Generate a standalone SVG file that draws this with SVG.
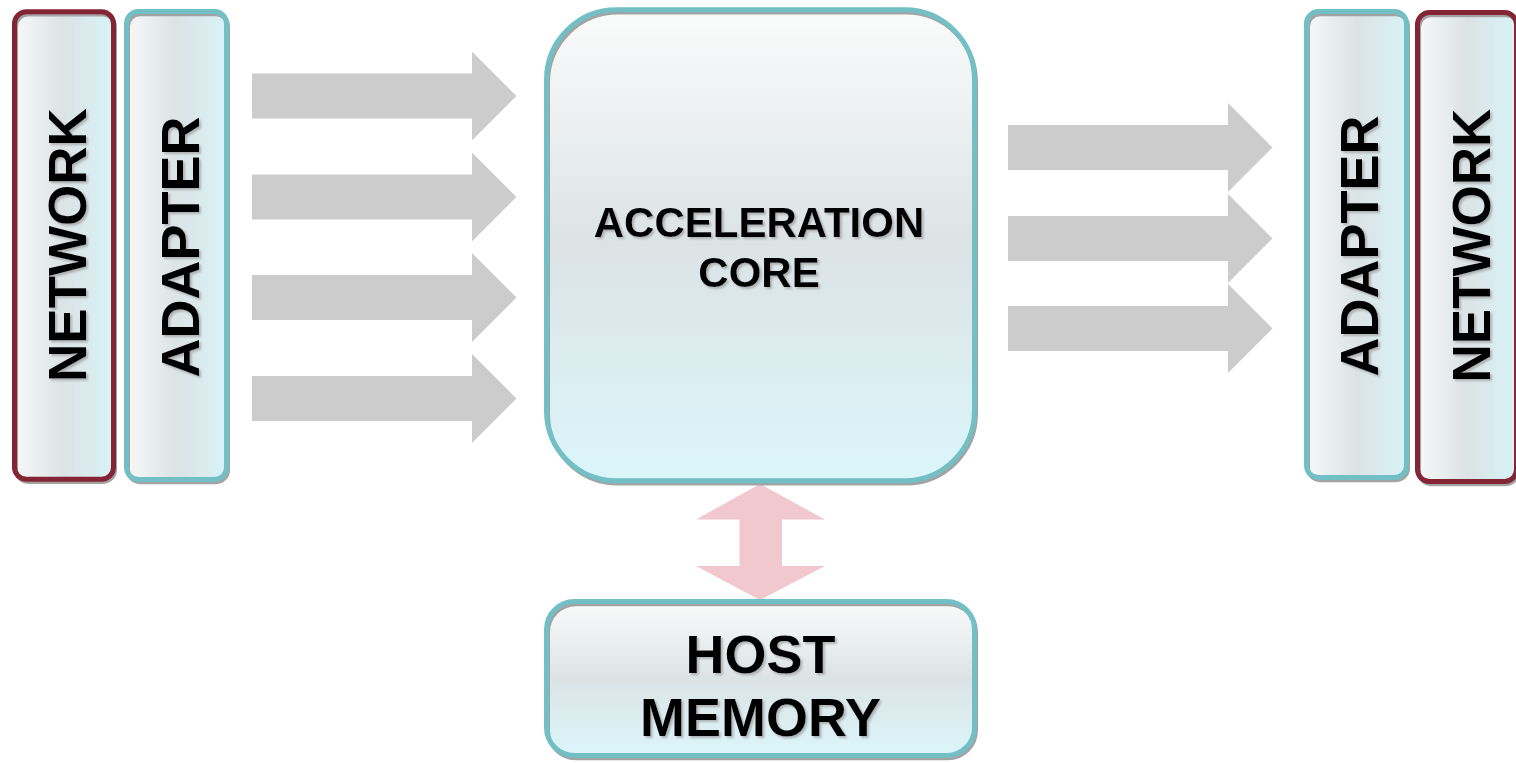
<svg xmlns="http://www.w3.org/2000/svg" width="1516" height="763" viewBox="0 0 1516 763">
<defs>
<linearGradient id="gv" x1="0" y1="0" x2="0" y2="1">
<stop offset="0" stop-color="#FAFBFB"/>
<stop offset="0.5" stop-color="#DCE3E5"/>
<stop offset="1" stop-color="#DBF6FB"/>
</linearGradient>
<linearGradient id="gh" x1="0" y1="0" x2="1" y2="0">
<stop offset="0" stop-color="#F7F8F8"/>
<stop offset="0.5" stop-color="#DCE3E5"/>
<stop offset="1" stop-color="#D8F3F8"/>
</linearGradient>
<filter id="ts" x="-20%" y="-20%" width="140%" height="140%">
<feDropShadow dx="2" dy="2" stdDeviation="0.8" flood-color="#9A9A9A" flood-opacity="0.7"/>
</filter>
</defs>
<style>
.fv{fill:url(#gv);stroke:none}
.fh{fill:url(#gh);stroke:none}
.sh{fill:none;stroke:#A3A3A3;stroke-width:4}
.teal{fill:none;stroke:#72BFC5;stroke-width:5}
.maroon{fill:none;stroke:#842536;stroke-width:5}
.t{font-family:"Liberation Sans",Arial,sans-serif;font-weight:bold;fill:#000;text-anchor:middle}
.arrow{fill:#CCCCCC}
.pink{fill:#F0C8CE}
</style>

<g id="connectors">
<g id="in-arrows">
<polygon class="arrow" points="252,73.5 472,73.5 472,51.5 516.5,96 472,140.5 472,118.5 252,118.5"/>
<polygon class="arrow" points="252,174.5 472,174.5 472,152.5 516.5,197 472,241.5 472,219.5 252,219.5"/>
<polygon class="arrow" points="252,275 472,275 472,253 516.5,297.5 472,342 472,320 252,320"/>
<polygon class="arrow" points="252,376 472,376 472,354 516.5,398.5 472,443 472,421 252,421"/>
</g>
<g id="out-arrows">
<polygon class="arrow" points="1008,125 1228,125 1228,103 1272.5,147.5 1228,192 1228,170 1008,170"/>
<polygon class="arrow" points="1008,216 1228,216 1228,194 1272.5,238.5 1228,283 1228,261 1008,261"/>
<polygon class="arrow" points="1008,306 1228,306 1228,284 1272.5,328.5 1228,373 1228,351 1008,351"/>
</g>
<polygon id="mem-arrow" class="pink" points="760,484 825,519.5 782,519.5 782,566 825,566 760,600 696,566 739.5,566 739.5,519.5 696,519.5"/>
</g>

<g id="network-left">
<rect class="fh" x="14.5" y="11.8" width="99" height="467.4" rx="12"/>
<rect class="sh" x="16" y="14.5" width="99" height="467.4" rx="12"/>
<rect class="maroon" x="14.5" y="11.8" width="99" height="467.4" rx="12"/>
<g filter="url(#ts)"><text class="t" font-size="53" transform="translate(66.5,245) rotate(-90)" x="0" y="19.5">NETWORK</text></g>
</g>

<g id="adapter-left">
<rect class="fh" x="126.5" y="11.5" width="100" height="468" rx="12"/>
<rect class="sh" x="128" y="14.2" width="100" height="468" rx="12"/>
<rect class="teal" x="126.5" y="11.5" width="100" height="468" rx="12"/>
<g filter="url(#ts)"><text class="t" font-size="54" transform="translate(179,247) rotate(-90)" x="0" y="19.5">ADAPTER</text></g>
</g>

<g id="core">
<rect class="fv" x="546.5" y="9.8" width="428" height="471" rx="70"/>
<rect class="sh" x="548" y="12.5" width="428" height="471" rx="70"/>
<rect class="teal" x="546.5" y="9.8" width="428" height="471" rx="70"/>
<g filter="url(#ts)">
<text class="t" font-size="42" x="759" y="237">ACCELERATION</text>
<text class="t" font-size="42" x="759" y="287">CORE</text>
</g>
</g>

<g id="host-memory">
<rect class="fv" x="546.5" y="601.5" width="428" height="154" rx="28"/>
<rect class="sh" x="548" y="604.2" width="428" height="154" rx="28"/>
<rect class="teal" x="546.5" y="601.5" width="428" height="154" rx="28"/>
<g filter="url(#ts)">
<text class="t" font-size="54" x="760.5" y="672.5">HOST</text>
<text class="t" font-size="54" x="760.5" y="736">MEMORY</text>
</g>
</g>

<g id="adapter-right">
<rect class="fh" x="1306.5" y="11.5" width="100" height="466" rx="12"/>
<rect class="sh" x="1308" y="14.2" width="100" height="466" rx="12"/>
<rect class="teal" x="1306.5" y="11.5" width="100" height="466" rx="12"/>
<g filter="url(#ts)"><text class="t" font-size="54" transform="translate(1358.5,246) rotate(-90)" x="0" y="19.5">ADAPTER</text></g>
</g>

<g id="network-right">
<rect class="fh" x="1417.5" y="12.5" width="99" height="469" rx="12"/>
<rect class="sh" x="1419" y="15.2" width="99" height="469" rx="12"/>
<rect class="maroon" x="1417.5" y="12.5" width="99" height="469" rx="12"/>
<g filter="url(#ts)"><text class="t" font-size="53" transform="translate(1470,245.5) rotate(-90)" x="0" y="19.5">NETWORK</text></g>
</g>
</svg>
